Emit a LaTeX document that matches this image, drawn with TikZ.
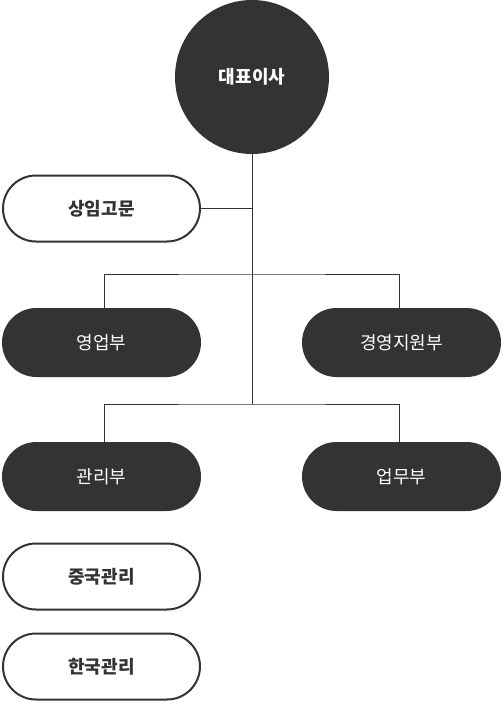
\documentclass[tikz,border=0pt]{standalone}
\usepackage{fontspec}
\newfontfamily\kr{Noto Sans CJK KR}
\definecolor{dark}{HTML}{333333}
\begin{document}
\begin{tikzpicture}[x=1pt,y=1pt,
  pill/.style={rectangle, rounded corners=33pt, minimum width=197pt, minimum height=66pt, inner sep=0pt, font=\kr\fontsize{18}{21}\selectfont},
  darkpill/.style={pill, fill=dark, text=white, minimum width=199pt, minimum height=69pt, rounded corners=34.5pt},
  lightpill/.style={pill, draw=dark, line width=2pt, fill=white, text=dark, font=\kr\bfseries\fontsize{18}{21}\selectfont},
  conn/.style={draw=dark, line width=1pt}]
\useasboundingbox (0,0) rectangle (502,-702);
\node[circle, fill=dark, minimum size=154pt, inner sep=0pt, text=white, font=\kr\bfseries\fontsize{18}{21}\selectfont] (ceo) at (252,-77) {대표이사};
\node[lightpill] (adv) at (101.5,-208.5) {상임고문};
\node[darkpill] (sales) at (101.5,-342.5) {영업부};
\node[darkpill] (mgmt) at (401.5,-342.5) {경영지원부};
\node[darkpill] (admin) at (101.5,-476.5) {관리부};
\node[darkpill] (ops) at (401.5,-476.5) {업무부};
\node[lightpill] (cn) at (101.5,-576.5) {중국관리};
\node[lightpill] (ko) at (101.5,-666.5) {한국관리};
\coordinate (j1) at (252,-208.5);
\coordinate (j2) at (252,-274);
\coordinate (j3) at (252,-404);
\draw[conn] (ceo.south) -- (j3);
\draw[conn] (adv.east) -- (j1);
\draw[conn] ([xshift=2.5pt]sales.north) |- (j2) -| ([xshift=-2.5pt]mgmt.north);
\draw[conn] ([xshift=2.5pt]admin.north) |- (j3) -| ([xshift=-2.5pt]ops.north);
\end{tikzpicture}
\end{document}
